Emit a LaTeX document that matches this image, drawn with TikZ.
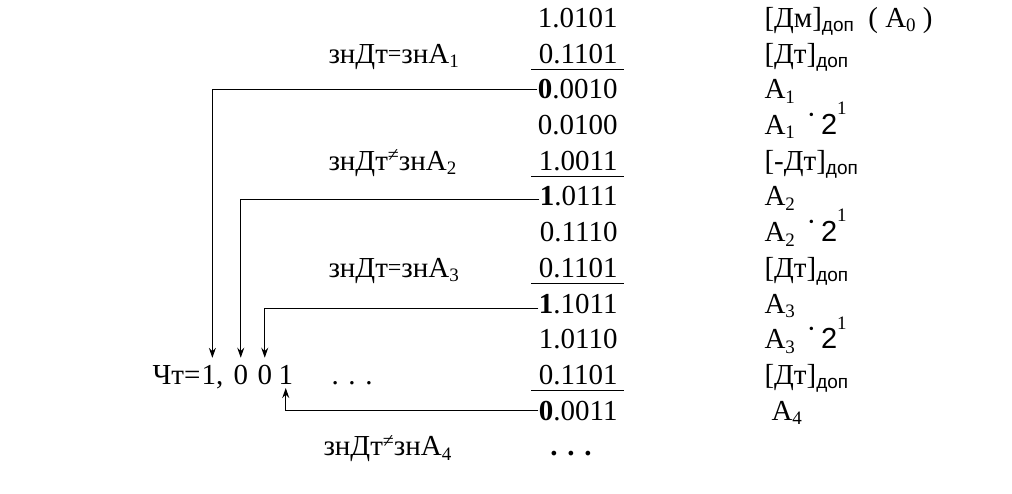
\documentclass[tikz,border=0pt]{standalone}
\usepackage{fontspec}
\setmainfont{Liberation Serif}
\newfontfamily\sansf{Liberation Sans}
\usetikzlibrary{arrows.meta}
\newcommand{\subs}[1]{\raisebox{-0.15em}{\fontsize{19}{19}\selectfont #1}}
\newcommand{\sups}[1]{\raisebox{0.68em}{\fontsize{19}{19}\selectfont #1}}
\newcommand{\dop}{\subs{\sansf доп}}
\newcommand{\nq}{\raisebox{0.3em}{\fontsize{20}{20}\selectfont ≠}}
\newcommand{\eq}{\raisebox{0.06em}{\fontsize{24}{24}\selectfont =}}
\newcommand{\cdt}{\raisebox{0.35em}{·}}

\begin{document}
\begin{tikzpicture}
[x=1pt,y=-1pt,>={Stealth[length=10pt,width=7pt]},line width=1pt,
 font=\fontsize{29}{34}\selectfont,
 num/.style = {anchor=base east, inner sep=0},
 txt/.style = {anchor=base west, inner sep=0}]
\useasboundingbox (0,0) rectangle (1012,494);
% numbers
\node (r0) at (618,27.5)[num] {1.0101};
\node (r1) at (618,63.2)[num] {0.1101};
\node (r2) at (618,98.9)[num] {\textbf{0}.0010};
\node (r3) at (618,134.6)[num] {0.0100};
\node (r4) at (618,170.3)[num] {1.0011};
\node (r5) at (618,206)[num] {\textbf{1}.0111};
\node (r6) at (618,241.7)[num] {0.1110};
\node (r7) at (618,277.4)[num] {0.1101};
\node (r8) at (618,313.1)[num] {\textbf{1}.1011};
\node (r9) at (618,348.8)[num] {1.0110};
\node (r10) at (618,384.5)[num] {0.1101};
\node (r11) at (618,420.2)[num] {\textbf{0}.0011};
\node (r12) at (571,455.9)[anchor=base, inner sep=0] {\textbf{. . .}};
\foreach \r in {r1,r4,r7,r10}
  \draw ([xshift=-7pt,yshift=-6pt]\r.base west) -- ([xshift=6pt,yshift=-6pt]\r.base east);
% names
\node (d0) at (764,27.5)[txt] {[Дм]\dop\hspace{0.5em}( А\subs{0} )};
\node (d1) at (764,63.2)[txt] {[Дт]\dop};
\node (d2) at (764,98.9)[txt] {А\subs{1}};
\node (d3) at (764,134.6)[txt] {А\subs{1}\hspace{0.4em}\cdt\,{\sansf 2}\sups{1}};
\node (d4) at (764,170.3)[txt] {[-Дт]\dop};
\node (d5) at (764,206)[txt] {А\subs{2}};
\node (d6) at (764,241.7)[txt] {А\subs{2}\hspace{0.4em}\cdt\,{\sansf 2}\sups{1}};
\node (d7) at (764,277.4)[txt] {[Дт]\dop};
\node (d8) at (764,313.1)[txt] {А\subs{3}};
\node (d9) at (764,348.8)[txt] {А\subs{3}\hspace{0.4em}\cdt\,{\sansf 2}\sups{1}};
\node (d10) at (764,384.5)[txt] {[Дт]\dop};
\node (d11) at (771,420.2)[txt] {А\subs{4}};
% signs
\node (s1) at (328,63.2)[txt] {знДт\eq знА\subs{1}};
\node (s2) at (328,170.3)[txt] {знДт\nq знА\subs{2}};
\node (s3) at (328,277.4)[txt] {знДт\eq знА\subs{3}};
\node (s4) at (323,455.9)[txt] {знДт\nq знА\subs{4}};
% quotient
\node (ch) at (201,384.5)[anchor=base east, inner sep=0] {Чт=};
\node (q1) at (201,384.5)[txt] {1,};
\node (q2) at (233,384.5)[txt] {0};
\node (q3) at (257,384.5)[txt] {0};
\node (q4) at (278,384.5)[txt] {1};
\node (dd) at (331,384.5)[txt] {. . .};
\draw[->,shorten >=7pt] (r2.west) -| (q1.north);
\draw[->,shorten >=7pt] ([yshift=-2.5pt]r5.west) -| (q2.north);
\draw[->,shorten >=7pt] ([yshift=-4.5pt]r8.west) -| (q3.north);
\draw[->,shorten >=3pt] (r11.west) -| (q4.south);
\end{tikzpicture}
\end{document}
